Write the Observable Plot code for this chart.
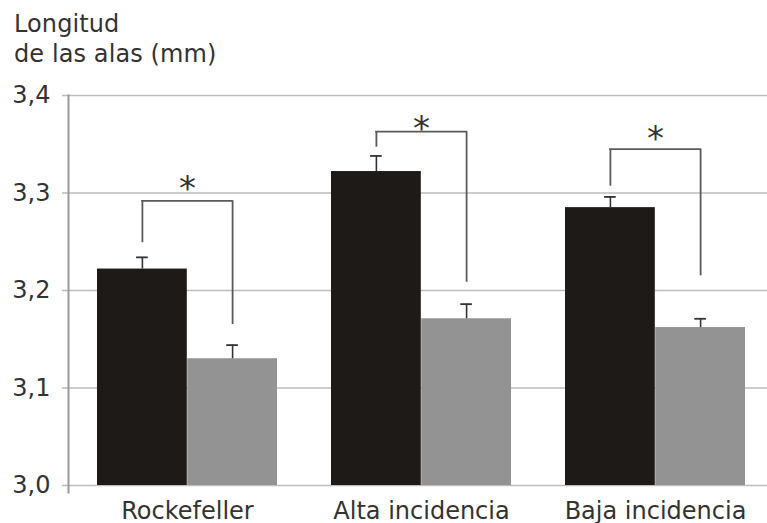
<!DOCTYPE html>
<html>
<head>
<meta charset="utf-8">
<script src="https://cdn.jsdelivr.net/npm/d3@7"></script>
<script src="https://cdn.jsdelivr.net/npm/@observablehq/plot@0.6"></script>
<style>
  body { margin: 0; background: #fff; }
  #wrap { width: 767px; height: 523px; position: relative; font-family: "DejaVu Sans", Verdana, sans-serif; color: #333; }
  #title { height: 80px; box-sizing: border-box; padding: 10px 0 0 14px; font-size: 24px; line-height: 29.5px; letter-spacing: 0.1px; }
</style>
</head>
<body>
<div id="wrap">
  <div id="title">Longitud<br>de las alas (mm)</div>
  <div id="chart"></div>
</div>
<script>
const categories = ["Rockefeller", "Alta incidencia", "Baja incidencia"];
const blackValues = [3.222, 3.322, 3.285];
const blackErrors = [0.012, 0.016, 0.011];
const grayValues = [3.130, 3.171, 3.162];
const grayErrors = [0.014, 0.015, 0.009];
const bracketTop = [3.292, 3.363, 3.345];
const bracketLeftEnd = [3.249, 3.347, 3.307];
const bracketRightEnd = [3.165, 3.2085, 3.215];
const starLevel = [3.313, 3.375, 3.365];
const yTicks = [3.0, 3.1, 3.2, 3.3, 3.4];

const rows = categories.map((cat, i) => ({
  cat,
  black: blackValues[i], blackErr: blackErrors[i],
  gray: grayValues[i], grayErr: grayErrors[i],
  top: bracketTop[i], leftEnd: bracketLeftEnd[i], rightEnd: bracketRightEnd[i],
  star: starLevel[i]
}));

const W = 767, H = 443, mL = 68, mR = 0, mT = 15, mB = 38;
const pIn = 0.232, pOut = 0.104, align = 0.57;
const step = (W - mL - mR) / (categories.length - pIn + 2 * pOut);
const bw = step * (1 - pIn);
const half = bw / 2, q = bw / 4, cap = 6;

const fmt = d => d.toFixed(1).replace(".", ",");

const chart = Plot.plot({
  width: W, height: H,
  marginLeft: mL, marginRight: mR, marginTop: mT, marginBottom: mB,
  style: { fontFamily: "DejaVu Sans, Verdana, sans-serif", color: "#333", background: "#fff", overflow: "visible" },
  x: { type: "band", domain: categories, paddingInner: pIn, paddingOuter: pOut, align, axis: null },
  y: { domain: [3.0, 3.4], axis: null },
  marks: [
    Plot.ruleY(yTicks, { stroke: "#bdbdbd", strokeWidth: 1.6 }),
    Plot.axisY({ ticks: yTicks, tickFormat: fmt, tickSize: 6, tickPadding: 12, stroke: "#bdbdbd", strokeWidth: 1.6, fontSize: 24, fill: "#333", label: null, style: "letter-spacing:1.2px" }),
    Plot.axisX({ tickSize: 0, tickPadding: 16, fontSize: 24, fill: "#333", label: null }),
    Plot.frame({ anchor: "left", stroke: "#9a9a9a", strokeWidth: 2, insetBottom: -7 }),
    Plot.barY(rows, { x: "cat", y1: 3, y2: "black", fill: "#1e1a18", insetRight: half }),
    Plot.barY(rows, { x: "cat", y1: 3, y2: "gray", fill: "#939393", insetLeft: half }),
    // error bars
    Plot.ruleX(rows, { x: "cat", y1: "black", y2: d => d.black + d.blackErr, dx: -q, stroke: "#333", strokeWidth: 1.6 }),
    Plot.tickY(rows, { x: "cat", y: d => d.black + d.blackErr, insetLeft: q - cap, insetRight: 3 * q - cap, stroke: "#333", strokeWidth: 1.8 }),
    Plot.ruleX(rows, { x: "cat", y1: "gray", y2: d => d.gray + d.grayErr, dx: q, stroke: "#333", strokeWidth: 1.6 }),
    Plot.tickY(rows, { x: "cat", y: d => d.gray + d.grayErr, insetLeft: 3 * q - cap, insetRight: q - cap, stroke: "#333", strokeWidth: 1.8 }),
    // significance brackets
    Plot.ruleX(rows, { x: "cat", y1: "leftEnd", y2: "top", dx: -q, stroke: "#5a5a5a", strokeWidth: 1.8 }),
    Plot.ruleX(rows, { x: "cat", y1: "rightEnd", y2: "top", dx: q, stroke: "#5a5a5a", strokeWidth: 1.8 }),
    Plot.tickY(rows, { x: "cat", y: "top", insetLeft: q - 0.9, insetRight: q - 0.9, stroke: "#5a5a5a", strokeWidth: 1.8 }),
    Plot.text(rows, { x: "cat", y: "star", text: () => "*", fontSize: 34, dy: 9, fill: "#333" })
  ]
});
document.getElementById("chart").appendChild(chart);
</script>
</body>
</html>
